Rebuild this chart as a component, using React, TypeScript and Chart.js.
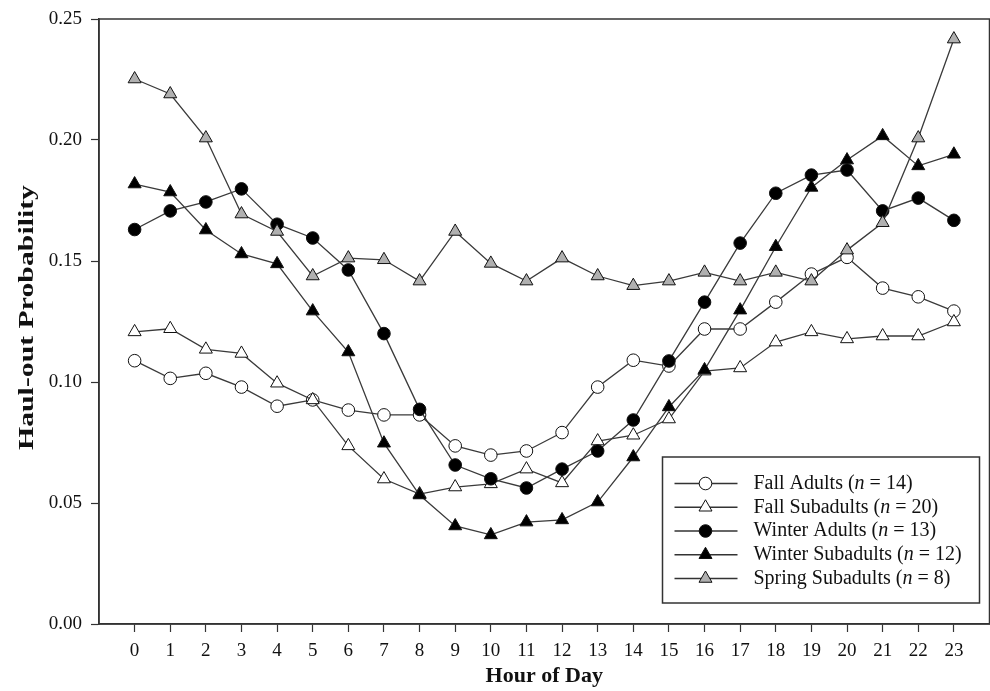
import React, { useEffect, useRef } from 'react';
import { Chart, registerables } from 'chart.js';

Chart.register(...registerables);

const hours = [0, 1, 2, 3, 4, 5, 6, 7, 8, 9, 10, 11, 12, 13, 14, 15, 16, 17, 18, 19, 20, 21, 22, 23];

const fallAdults = [0.1088, 0.1015, 0.1036, 0.0979, 0.0900, 0.0926, 0.0884, 0.0864, 0.0864, 0.0736, 0.0698, 0.0715, 0.0791, 0.0979, 0.1090, 0.1066, 0.1219, 0.1219, 0.1330, 0.1446, 0.1515, 0.1388, 0.1352, 0.1293];
const fallSubadults = [0.1207, 0.1220, 0.1135, 0.1118, 0.0995, 0.0926, 0.0736, 0.0599, 0.0537, 0.0566, 0.0579, 0.0640, 0.0583, 0.0756, 0.0780, 0.0847, 0.1045, 0.1058, 0.1165, 0.1207, 0.1178, 0.1190, 0.1190, 0.1248];
const winterAdults = [0.1630, 0.1707, 0.1744, 0.1798, 0.1652, 0.1595, 0.1463, 0.1200, 0.0887, 0.0657, 0.0600, 0.0562, 0.0640, 0.0715, 0.0843, 0.1087, 0.1330, 0.1574, 0.1780, 0.1855, 0.1876, 0.1707, 0.1760, 0.1668];
const winterSubadults = [0.1818, 0.1785, 0.1628, 0.1529, 0.1488, 0.1293, 0.1124, 0.0747, 0.0533, 0.0405, 0.0368, 0.0421, 0.0430, 0.0504, 0.0690, 0.0897, 0.1050, 0.1297, 0.1559, 0.1804, 0.1917, 0.2017, 0.1893, 0.1941];
const springSubadults = [0.2252, 0.2190, 0.2008, 0.1694, 0.1622, 0.1438, 0.1512, 0.1505, 0.1417, 0.1622, 0.1490, 0.1417, 0.1512, 0.1438, 0.1398, 0.1417, 0.1453, 0.1417, 0.1453, 0.1417, 0.1545, 0.1658, 0.2008, 0.2417];

const seriesNames = ['Fall Adults', 'Fall Subadults', 'Winter Adults', 'Winter Subadults', 'Spring Subadults'];
const sampleSizes = [14, 20, 13, 12, 8];
const yTicks = [0, 0.05, 0.1, 0.15, 0.2, 0.25];
const xTitle = 'Hour of Day';
const yTitle = 'Haul-out Probability';

const FONT = '"Liberation Serif", "Times New Roman", serif';
const PAGE_W = 990;
const PAGE_H = 691;
const PLOT_RIGHT = 989;

function drawMarker(ctx: CanvasRenderingContext2D, style: string, x: number, y: number, r: number, fill: string) {
  ctx.beginPath();
  if (style === 'circle') {
    ctx.arc(x, y, r, 0, Math.PI * 2);
  } else {
    for (let i = 0; i < 3; i++) {
      const a = -Math.PI / 2 + (i * 2 * Math.PI) / 3;
      const px = x + Math.cos(a) * r;
      const py = y + Math.sin(a) * r;
      if (i === 0) ctx.moveTo(px, py);
      else ctx.lineTo(px, py);
    }
    ctx.closePath();
  }
  ctx.fillStyle = fill;
  ctx.fill();
  ctx.lineWidth = 1;
  ctx.strokeStyle = '#111';
  ctx.stroke();
}

const framePlugin = {
  id: 'frame',
  afterDraw(chart: any) {
    const { ctx, chartArea } = chart;
    ctx.save();
    ctx.strokeStyle = '#333';
    ctx.lineWidth = 1.5;
    ctx.strokeRect(chartArea.left, chartArea.top, chartArea.right - chartArea.left, chartArea.bottom - chartArea.top);
    ctx.restore();
  },
};

// Y-axis title, drawn rotated and stretched along its length like the original figure
const yTitlePlugin = {
  id: 'yTitle',
  afterDraw(chart: any) {
    const { ctx, chartArea } = chart;
    ctx.save();
    ctx.font = `bold 22px ${FONT}`;
    const w = ctx.measureText(yTitle).width;
    const sx = 265 / w;
    ctx.translate(27, (chartArea.top + chartArea.bottom) / 2 - 4);
    ctx.rotate(-Math.PI / 2);
    ctx.scale(sx, 1);
    ctx.fillStyle = '#111';
    ctx.textAlign = 'center';
    ctx.textBaseline = 'middle';
    ctx.fillText(yTitle, 0, 0);
    ctx.restore();
  },
};

const legendPlugin = {
  id: 'customLegend',
  afterDraw(chart: any) {
    const { ctx, chartArea } = chart;
    const bw = 317;
    const bh = 146;
    const bx = chartArea.right - 327;
    const by = chartArea.bottom - 167;
    ctx.save();
    ctx.fillStyle = '#fff';
    ctx.fillRect(bx, by, bw, bh);
    ctx.strokeStyle = '#333';
    ctx.lineWidth = 1.5;
    ctx.strokeRect(bx, by, bw, bh);
    chart.data.datasets.forEach((ds: any, i: number) => {
      const y = by + 26.5 + i * 23.75;
      ctx.beginPath();
      ctx.moveTo(bx + 12, y);
      ctx.lineTo(bx + 75, y);
      ctx.strokeStyle = '#333';
      ctx.lineWidth = 1.3;
      ctx.stroke();
      drawMarker(ctx, ds.pointStyle, bx + 43, y, ds.pointStyle === 'circle' ? 6.3 : 7.5, ds.pointBackgroundColor);
      ctx.fillStyle = '#111';
      ctx.textBaseline = 'middle';
      ctx.textAlign = 'left';
      let tx = bx + 91;
      const parts: [string, boolean][] = [
        [`${seriesNames[i]} (`, false],
        ['n', true],
        [` = ${sampleSizes[i]})`, false],
      ];
      parts.forEach(([t, it]) => {
        ctx.font = `${it ? 'italic ' : ''}20px ${FONT}`;
        ctx.fillText(t, tx, y);
        tx += ctx.measureText(t).width;
      });
    });
    ctx.restore();
  },
};

export default function App() {
  const ref = useRef<HTMLCanvasElement>(null);
  useEffect(() => {
    if (!ref.current) return;
    const lineColor = '#3a3a3a';
    const mk = (i: number, values: number[], style: string, fill: string, order: number) => ({
      label: seriesNames[i],
      data: hours.map((h, k) => ({ x: h, y: values[k] })),
      borderColor: lineColor,
      borderWidth: 1.3,
      pointStyle: style,
      pointRadius: style === 'circle' ? 6.3 : 7.5,
      pointBackgroundColor: fill,
      pointBorderColor: '#111',
      pointBorderWidth: 1,
      fill: false,
      tension: 0,
      clip: false,
      order,
    });
    const chart = new Chart(ref.current, {
      type: 'line',
      data: {
        datasets: [
          mk(0, fallAdults, 'circle', '#ffffff', 5),
          mk(1, fallSubadults, 'triangle', '#ffffff', 4),
          mk(2, winterAdults, 'circle', '#000000', 3),
          mk(3, winterSubadults, 'triangle', '#000000', 2),
          mk(4, springSubadults, 'triangle', '#b0b0b0', 1),
        ] as any,
      },
      options: {
        animation: false,
        responsive: false,
        maintainAspectRatio: false,
        layout: { padding: { top: 19, right: 1, left: 0, bottom: 0 } },
        plugins: {
          legend: { display: false },
          tooltip: { enabled: false },
        },
        scales: {
          x: {
            type: 'linear',
            min: -1,
            max: 24,
            afterBuildTicks: (scale: any) => {
              scale.ticks = hours.map((h) => ({ value: h }));
            },
            afterFit: (scale: any) => {
              scale.height = 67;
              scale.paddingLeft = 0;
              scale.paddingRight = 0;
            },
            ticks: {
              autoSkip: false,
              maxRotation: 0,
              padding: 8,
              color: '#111',
              font: { family: FONT, size: 19 },
              callback: (v: any) => String(v),
            },
            grid: { display: true, drawOnChartArea: false, tickLength: 8, color: '#333', tickWidth: 1.2 },
            border: { display: true, color: '#333', width: 1.5 },
            title: {
              display: true,
              text: xTitle,
              color: '#111',
              font: { family: FONT, size: 22, weight: 'bold' },
              padding: { top: 0, bottom: 1 },
            },
          },
          y: {
            type: 'linear',
            min: 0,
            max: 0.25,
            afterBuildTicks: (scale: any) => {
              scale.ticks = yTicks.map((v) => ({ value: v }));
            },
            afterFit: (scale: any) => {
              scale.width = 99;
              scale.paddingTop = 0;
              scale.paddingBottom = 0;
            },
            ticks: {
              padding: 9,
              color: '#111',
              font: { family: FONT, size: 19 },
              callback: (v: any) => Number(v).toFixed(2),
            },
            grid: { display: true, drawOnChartArea: false, tickLength: 8, color: '#333', tickWidth: 1.2 },
            border: { display: true, color: '#333', width: 1.5 },
            title: { display: false },
          },
        },
      } as any,
      plugins: [framePlugin, yTitlePlugin, legendPlugin],
    });
    // Chart.js reserves room at the right for the last tick label; widen the canvas
    // (clipped by the page-sized wrapper) so the plot frame reaches the page edge.
    const extra = Math.round(PLOT_RIGHT - chart.chartArea.right);
    if (extra > 0) {
      chart.resize(PAGE_W + extra, PAGE_H);
    }
    return () => chart.destroy();
  }, []);
  return (
    <div style={{ position: 'fixed', left: 0, top: 0, width: PAGE_W, height: PAGE_H, overflow: 'hidden', background: '#fff' }}>
      <div style={{ width: PAGE_W + 40, height: PAGE_H }}>
        <canvas ref={ref} width={PAGE_W} height={PAGE_H} style={{ display: 'block' }} />
      </div>
    </div>
  );
}
